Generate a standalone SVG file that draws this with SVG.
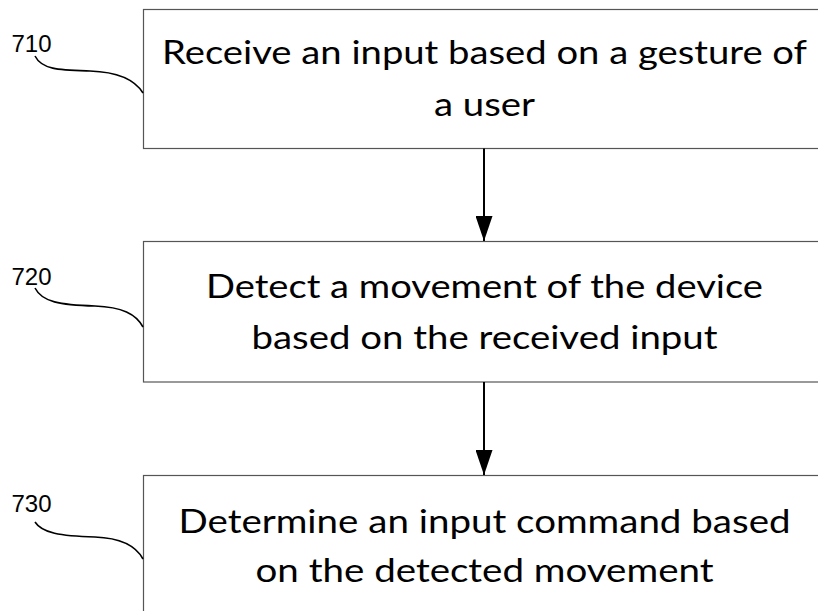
<svg xmlns="http://www.w3.org/2000/svg" width="818" height="611" viewBox="0 0 818 611">
<defs>
<style>
.box{fill:#fff;stroke:#555;stroke-width:1.2}
.t{font-family:Lato,"Open Sans",sans-serif;font-size:33px;fill:#000;text-anchor:middle}
.lbl{font-family:"Liberation Sans",Arial,sans-serif;font-size:24px;fill:#000}
.lead{fill:none;stroke:#000;stroke-width:1.6}
.arr{stroke:#000;stroke-width:2;fill:none}
</style>
<marker id="ah" viewBox="0 0 25 17" markerWidth="25" markerHeight="17" refX="25" refY="8.5" orient="auto" markerUnits="userSpaceOnUse">
<path d="M0,0 L25,8.5 L0,17 Z" fill="#000"/>
</marker>
</defs>
<rect width="818" height="611" fill="#fff"/>
<g id="n710">
<rect class="box" x="143.5" y="9.5" width="700" height="139"/>
<text class="t" x="484.5" y="64" textLength="645" lengthAdjust="spacingAndGlyphs">Receive an input based on a gesture of</text>
<text class="t" x="484.5" y="116" textLength="101" lengthAdjust="spacingAndGlyphs">a user</text>
<text class="lbl" x="11.5" y="52">710</text>
<path class="lead" d="M35,56 C42,70 60,70 90,71 C120,72 135,80 143,93"/>
</g>
<g id="n720">
<rect class="box" x="143.5" y="241.5" width="700" height="140.5"/>
<text class="t" x="484.5" y="298" textLength="557" lengthAdjust="spacingAndGlyphs">Detect a movement of the device</text>
<text class="t" x="484.5" y="349" textLength="466" lengthAdjust="spacingAndGlyphs">based on the received input</text>
<text class="lbl" x="11.5" y="285">720</text>
<path class="lead" d="M35,288 C42,302 60,305 95,306 C122,307 136,314 143,327"/>
</g>
<g id="n730">
<rect class="box" x="143.5" y="475.5" width="700" height="150"/>
<text class="t" x="484.5" y="533" textLength="612" lengthAdjust="spacingAndGlyphs">Determine an input command based</text>
<text class="t" x="484.5" y="582" textLength="458" lengthAdjust="spacingAndGlyphs">on the detected movement</text>
<text class="lbl" x="11.5" y="512">730</text>
<path class="lead" d="M35,522 C42,533 60,536 95,537 C122,538 136,546 143,559"/>
</g>
<g id="connectors">
<line class="arr" x1="484" y1="148.5" x2="484" y2="241" marker-end="url(#ah)"/>
<line class="arr" x1="484" y1="382" x2="484" y2="475" marker-end="url(#ah)"/>
</g>
</svg>
